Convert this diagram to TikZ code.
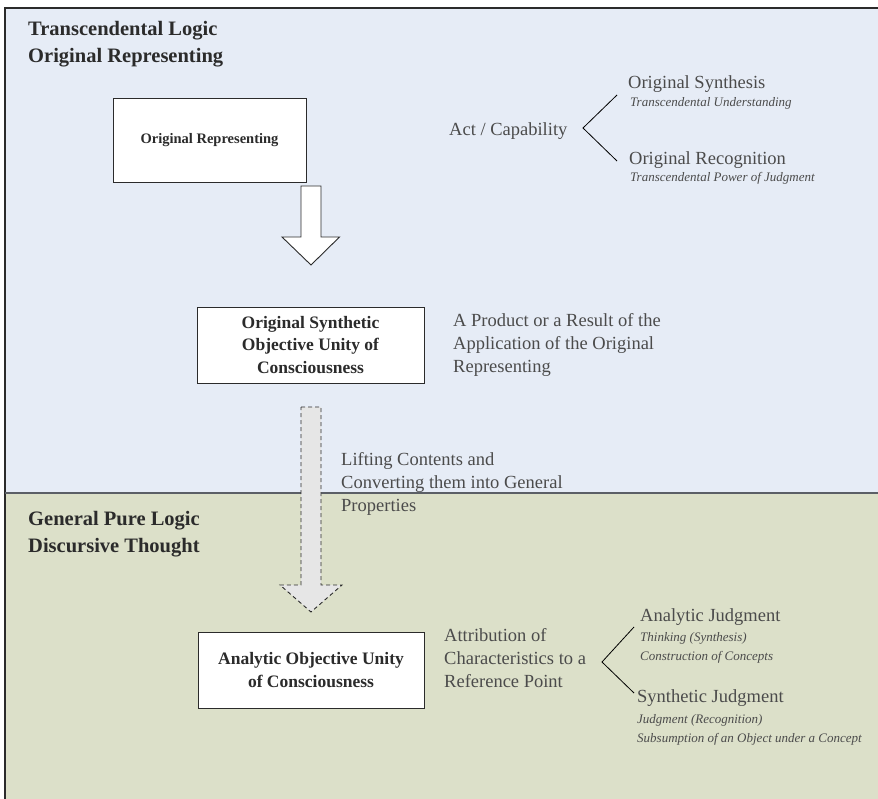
\documentclass[tikz,border=0pt]{standalone}
\usepackage{fontspec}
\setmainfont{Liberation Serif}
\definecolor{topfill}{HTML}{E6ECF6}
\definecolor{botfill}{HTML}{DCE0C9}
\definecolor{divline}{HTML}{5B5F66}
\definecolor{inkc}{HTML}{2B2B2B}
\definecolor{arrowgray}{HTML}{E6E6E6}
\begin{document}
\begin{tikzpicture}[x=1pt,y=-1pt,
  titletext/.style={anchor=west,align=left,inner sep=0pt,font=\fontsize{20.5}{27}\selectfont\bfseries,text=inkc},
  conceptbox/.style={draw=inkc,line width=0.9pt,fill=white,align=center,inner sep=2pt,font=\fontsize{17.5}{22.5}\selectfont\bfseries,text=inkc},
  plaintext/.style={anchor=west,align=left,inner sep=0pt,font=\fontsize{18.5}{23}\selectfont,text=inkc!85},
  smallital/.style={anchor=west,align=left,inner sep=0pt,font=\fontsize{13}{19}\selectfont\itshape,text=inkc!85},
  bracketline/.style={draw=black,line width=0.8pt},
  hollowarrow/.style={draw=inkc,line width=0.9pt,fill=white,line join=miter},
  dashedarrow/.style={draw=inkc,line width=0.9pt,fill=arrowgray,dashed,dash pattern=on 4pt off 3pt}
]
\useasboundingbox (0,0) rectangle (878,799);
\begin{scope}
\clip (0,0) rectangle (878,799);
\fill[topfill] (5,8) rectangle (882,493);
\fill[botfill] (5,493) rectangle (882,803);
\draw[inkc,line width=1.3pt] (5,803) -- (5,8) -- (882,8);
\draw[divline,line width=2pt] (5,493) -- (882,493);
\end{scope}

% titles
\node[titletext] (t1) at (28,44) {Transcendental Logic\\Original Representing};
\node[titletext] (t2) at (28,534) {General Pure Logic\\Discursive Thought};

% boxes
\node[conceptbox,minimum width=193pt,minimum height=84pt,font=\fontsize{14.5}{20}\selectfont\bfseries] (b1) at (209.5,140) {Original Representing};
\node[conceptbox,minimum width=227pt,minimum height=76pt] (b2) at (310.5,345) {Original Synthetic\\Objective Unity of\\Consciousness};
\node[conceptbox,minimum width=226pt,minimum height=76pt] (b3) at (311,670) {Analytic Objective Unity\\of Consciousness};

% side texts
\node[plaintext] (act) at (449,131) {Act / Capability};
\node[plaintext] (prod) at (453,345) {A Product or a Result of the\\Application of the Original\\Representing};
\node[plaintext] (lift) at (341,484) {Lifting Contents and\\Converting them into General\\Properties};
\node[plaintext] (attr) at (444,658) {Attribution of\\Characteristics to a\\Reference Point};

% branch texts top
\node[plaintext] (os) at (628,84) {Original Synthesis};
\node[smallital] (osi) at (630,103) {Transcendental Understanding};
\node[plaintext] (orr) at (629,160) {Original Recognition};
\node[smallital] (ori) at (630,178) {Transcendental Power of Judgment};

% branch texts bottom
\node[plaintext] (aj) at (640,617) {Analytic Judgment};
\node[smallital] (aji) at (640,647.5) {Thinking (Synthesis)\\Construction of Concepts};
\node[plaintext] (sj) at (637,698) {Synthetic Judgment};
\node[smallital] (sji) at (637,729.5) {Judgment (Recognition)\\Subsumption of an Object under a Concept};

% brackets
\coordinate (v1) at (583,128);
\coordinate (u1) at (617,95);
\coordinate (l1) at (617,161);
\draw[bracketline] (u1) -- (v1) -- (l1);
\coordinate (v2) at (602,662);
\coordinate (u2) at (634,627);
\coordinate (l2) at (634,693);
\draw[bracketline] (u2) -- (v2) -- (l2);

% hollow block arrow towards b2
\coordinate (a1top) at (311,186);
\draw[hollowarrow] (a1top) ++(-10,0) -- ++(20,0) -- ++(0,51) -- ++(18.5,0) -- (311,265) -- ++(-29,-28) -- ++(19,0) -- cycle;

% dashed block arrow from b2 towards b3
\coordinate (a2top) at (311,407);
\draw[dashedarrow] (a2top) ++(-10,0) -- ++(20,0) -- ++(0,178) -- ++(21,0) -- (311,612) -- ++(-31,-27) -- ++(21,0) -- cycle;
\end{tikzpicture}
\end{document}
